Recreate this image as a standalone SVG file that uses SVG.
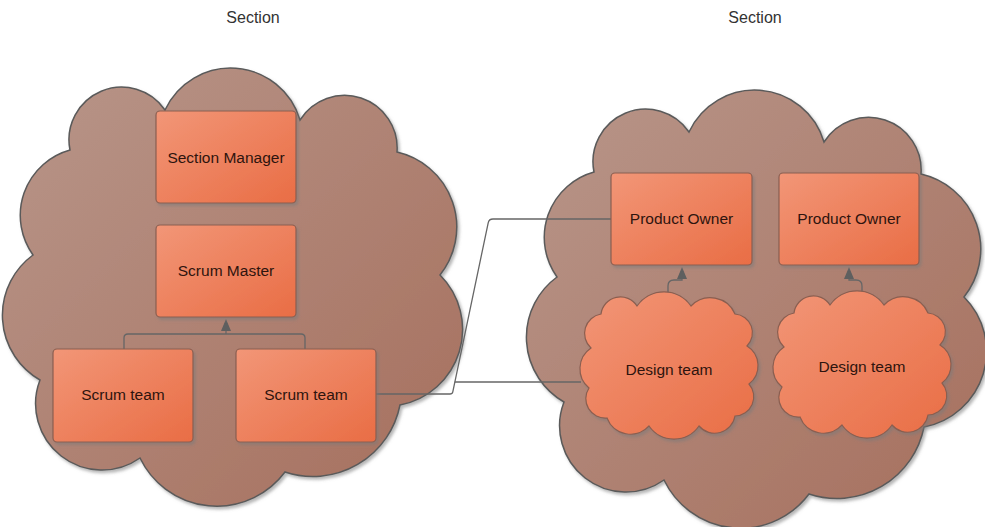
<svg xmlns="http://www.w3.org/2000/svg" xmlns:xlink="http://www.w3.org/1999/xlink" width="985" height="527" viewBox="0 0 985 527">
  <defs>
    <linearGradient id="cloudFill" x1="0" y1="0" x2="1" y2="1">
      <stop offset="0" stop-color="#b8968a"/>
      <stop offset="1" stop-color="#a66f5d"/>
    </linearGradient>
    <linearGradient id="orangeFill" x1="0" y1="0" x2="1" y2="1">
      <stop offset="0" stop-color="#f29677"/>
      <stop offset="1" stop-color="#e96d45"/>
    </linearGradient>
    <filter id="shadow" x="-10%" y="-10%" width="125%" height="125%">
      <feDropShadow dx="2" dy="2.5" stdDeviation="1.5" flood-color="#7a7a7a" flood-opacity="0.55"/>
    </filter>
    <marker id="arrow" markerUnits="userSpaceOnUse" markerWidth="13" markerHeight="11" refX="0" refY="5" orient="auto">
      <path d="M0,0 L12,5 L0,10 Z" fill="#5f5f5f"/>
    </marker>
    <!-- large section cloud, drawn around the left section -->
    <path id="bigCloud" d="M70,150 A52.6,52.6 0 0 1 165,110 A72.3,72.3 0 0 1 300,120 A52.6,52.6 0 0 1 397,152 A77,77 0 0 1 440,275 A76.9,76.9 0 0 1 400,405 A88.8,88.8 0 0 1 285,472 A85.2,85.2 0 0 1 140,458 A66.3,66.3 0 0 1 40,380 A74.6,74.6 0 0 1 33,255 A67.9,67.9 0 0 1 70,150 Z"/>
    <!-- small team cloud, centred on the origin -->
    <path id="teamCloud" d="M-68,-52 A19.6,19.6 0 0 1 -32,-60 A33,33 0 0 1 22,-60 A26.8,26.8 0 0 1 66,-52 A18.8,18.8 0 0 1 78,-20 A23.1,23.1 0 0 1 80,18 A19.3,19.3 0 0 1 66,50 A20.6,20.6 0 0 1 30,60 A30.5,30.5 0 0 1 -20,60 A25.1,25.1 0 0 1 -62,52 A19.4,19.4 0 0 1 -80,22 A25,25 0 0 1 -78,-18 A19.7,19.7 0 0 1 -68,-52 Z"/>
  </defs>
  <style>
    .section { fill: url(#cloudFill); stroke: #5a5a5a; stroke-width: 1.5; filter: url(#shadow); }
    .box { fill: url(#orangeFill); stroke: #8a5e50; stroke-width: 1.2; filter: url(#shadow); }
    .label { font-family: "Liberation Sans", Arial, sans-serif; font-size: 15.5px; fill: #2e140e; text-anchor: middle; }
    .title { font-family: "Liberation Sans", Arial, sans-serif; font-size: 16px; fill: #333333; text-anchor: middle; }
    .link { fill: none; stroke: #666666; stroke-width: 1.3; }
  </style>

  <rect width="985" height="527" fill="#ffffff"/>

  <g id="section-left">
    <use xlink:href="#bigCloud" class="section"/>
    <text class="title" x="253" y="23">Section</text>
  </g>
  <g id="section-right">
    <use xlink:href="#bigCloud" class="section" transform="translate(524,22)"/>
    <text class="title" x="755" y="23">Section</text>
  </g>

  <g id="connectors">
    <path class="link" d="M124,349 V338 Q124,334 128,334 H301 Q305,334 305,338 V349"/>
    <path class="link" d="M226,334 V331" marker-end="url(#arrow)"/>
    <path class="link" d="M668,296 V286 Q668,280 674,280 H682 V279" marker-end="url(#arrow)"/>
    <path class="link" d="M862,296 V286 Q862,280 856,280 H849 V279" marker-end="url(#arrow)"/>
    <path class="link" d="M376,394 H450 Q452.3,394 452.8,391.8 L488.2,222.8 Q489,219 493,219 H611"/>
    <path class="link" d="M454.8,382 H581"/>
  </g>

  <g id="section-manager">
    <rect class="box" x="156" y="111" width="140" height="92" rx="4"/>
    <text class="label" x="226" y="162.5">Section Manager</text>
  </g>
  <g id="scrum-master">
    <rect class="box" x="156" y="225" width="140" height="92" rx="4"/>
    <text class="label" x="226" y="276">Scrum Master</text>
  </g>
  <g id="scrum-team-1">
    <rect class="box" x="53" y="349" width="140" height="93" rx="4"/>
    <text class="label" x="123" y="400">Scrum team</text>
  </g>
  <g id="scrum-team-2">
    <rect class="box" x="236" y="349" width="140" height="93" rx="4"/>
    <text class="label" x="306" y="400">Scrum team</text>
  </g>
  <g id="product-owner-1">
    <rect class="box" x="611" y="173" width="141" height="92" rx="4"/>
    <text class="label" x="681.5" y="223.5">Product Owner</text>
  </g>
  <g id="product-owner-2">
    <rect class="box" x="779" y="173" width="140" height="92" rx="4"/>
    <text class="label" x="849" y="223.5">Product Owner</text>
  </g>
  <g id="design-team-1">
    <use xlink:href="#teamCloud" class="box" transform="translate(669,366)"/>
    <text class="label" x="669" y="374.5">Design team</text>
  </g>
  <g id="design-team-2">
    <use xlink:href="#teamCloud" class="box" transform="translate(862,365)"/>
    <text class="label" x="862" y="371.5">Design team</text>
  </g>
</svg>
